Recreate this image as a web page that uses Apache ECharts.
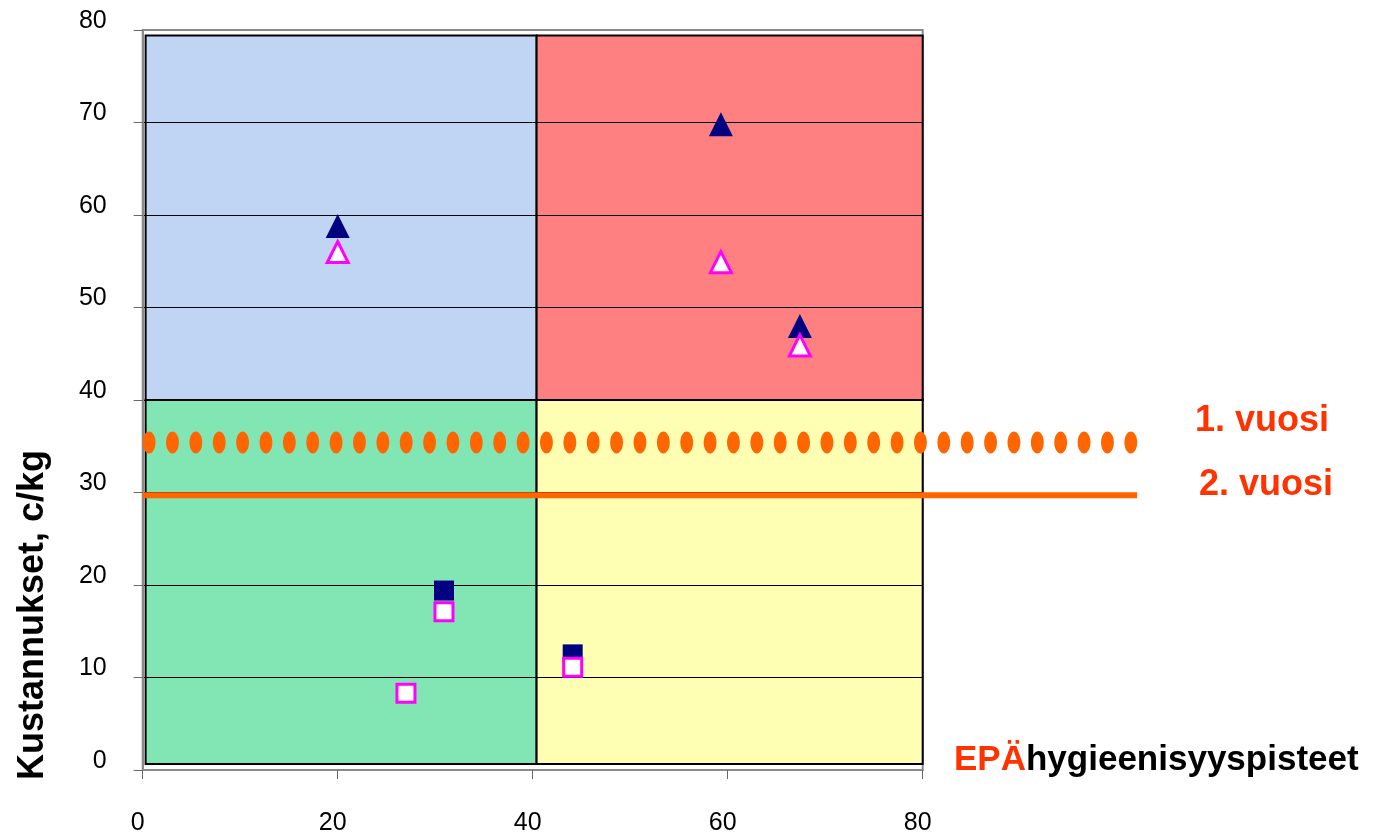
<!DOCTYPE html>
<html>
<head>
<meta charset="utf-8">
<script src="https://cdn.jsdelivr.net/npm/echarts@6/dist/echarts.min.js"></script>
<style>
html,body{margin:0;padding:0;background:#fff;}
#c{width:1393px;height:837px;}
</style>
</head>
<body>
<div id="c"></div>
<script>
// ---- data ----
const xTicks = [0, 20, 40, 60, 80];
const yTicks = [0, 10, 20, 30, 40, 50, 60, 70, 80];
const filledTriangles = [[20, 58.8], [59.3, 69.8], [67.4, 48.0]];
const openTriangles   = [[20, 56.0], [59.3, 54.9], [67.4, 45.9]];
const filledSquares   = [[30.9, 19.4], [44.1, 12.5]];
const openSquares     = [[30.9, 17.1], [27.0, 8.3], [44.1, 11.1]];
const quadX = [0.3, 40.4, 80];      // quadrant boundaries on x
const quadY = [0.65, 40, 79.4];     // quadrant boundaries on y
const line1 = [0, 35.4, 102];       // 1. vuosi: x start, y, x end
const line2 = [0, 29.7, 102];       // 2. vuosi: x start, y, x end
const lineLabels = ['1. vuosi', '2. vuosi'];
const yTitle = 'Kustannukset, c/kg';
const xTitleRed = 'EPÄ';
const xTitleBlack = 'hygieenisyyspisteet';

const FONT = "'Liberation Sans', Arial, sans-serif";
const RED = '#FF3300';
const ORANGE = '#FF6600';

const chart = echarts.init(document.getElementById('c'));

const gLeft = 142.7, gTop = 30, gW = 780, gH = 740;
const unitX = gW / 80;

const option = {
  animation: false,
  backgroundColor: '#ffffff',
  grid: [
    {left: gLeft, top: gTop, width: gW, height: gH, show: true, borderColor: '#8a8a8a', borderWidth: 2, backgroundColor: 'transparent'},
    {left: gLeft, top: gTop, width: unitX * 102, height: gH, show: false}
  ],
  xAxis: [
    {
      gridIndex: 0, type: 'value', min: 0, max: 80, interval: 20,
      axisLine: {show: true, onZero: false, lineStyle: {color: '#8a8a8a', width: 2}},
      axisTick: {show: true, length: 9, lineStyle: {color: '#666', width: 1}},
      axisLabel: {margin: 41, fontSize: 25, lineHeight: 25, color: '#000', fontFamily: FONT, padding: [0, 10, 0, 0],
        formatter: v => xTicks.includes(v) ? String(v) : ''},
      splitLine: {show: false}
    },
    {gridIndex: 1, type: 'value', min: 0, max: 102, show: false}
  ],
  yAxis: [
    {
      gridIndex: 0, type: 'value', min: 0, max: 80, interval: 10, z: 3,
      axisLine: {show: true, onZero: false, lineStyle: {color: '#8a8a8a', width: 2}},
      axisTick: {show: true, length: 9, lineStyle: {color: '#666', width: 1}},
      axisLabel: {margin: 36, fontSize: 25, lineHeight: 18, verticalAlign: 'bottom', color: '#000', fontFamily: FONT,
        formatter: v => yTicks.includes(v) ? String(v) : ''},
      splitLine: {show: true, showMinLine: false, showMaxLine: false, lineStyle: {color: '#000', width: 1}}
    },
    {gridIndex: 1, type: 'value', min: 0, max: 80, show: false}
  ],
  series: [
    {
      type: 'scatter', xAxisIndex: 0, yAxisIndex: 0, data: [], z: 1, silent: true,
      markArea: {
        silent: true,
        itemStyle: {borderColor: '#000', borderWidth: 2},
        data: [
          [{coord: [quadX[0], quadY[1]], itemStyle: {color: '#C0D4F4', borderColor: '#000', borderWidth: 2}}, {coord: [quadX[1], quadY[2]]}],
          [{coord: [quadX[1], quadY[1]], itemStyle: {color: '#FF8080', borderColor: '#000', borderWidth: 2}}, {coord: [quadX[2], quadY[2]]}],
          [{coord: [quadX[0], quadY[0]], itemStyle: {color: '#82E6B4', borderColor: '#000', borderWidth: 2}}, {coord: [quadX[1], quadY[1]]}],
          [{coord: [quadX[1], quadY[0]], itemStyle: {color: '#FFFFB4', borderColor: '#000', borderWidth: 2}}, {coord: [quadX[2], quadY[1]]}]
        ]
      }
    },
    {
      type: 'custom', xAxisIndex: 1, yAxisIndex: 1, z: 6, silent: true, clip: false,
      data: [line1],
      renderItem: function (params, api) {
        const p0 = api.coord([api.value(0), api.value(1)]);
        const p1 = api.coord([api.value(2), api.value(1)]);
        const rx = 6.4, ry = 11;
        const x0 = p0[0] + rx, x1 = p1[0] - rx;
        const n = Math.round((x1 - x0) / 23.5);
        const step = (x1 - x0) / n;
        const children = [];
        for (let i = 0; i <= n; i++) {
          children.push({type: 'ellipse', shape: {cx: x0 + i * step, cy: p0[1], rx: rx, ry: ry}, style: {fill: ORANGE}});
        }
        return {type: 'group', children: children};
      }
    },
    {
      type: 'line', xAxisIndex: 1, yAxisIndex: 1, z: 6, silent: true,
      data: [[line2[0], line2[1]], [line2[2], line2[1]]],
      symbol: 'none', lineStyle: {color: ORANGE, width: 6}
    },
    {
      type: 'scatter', xAxisIndex: 0, yAxisIndex: 0, z: 7, silent: true,
      data: filledTriangles, symbol: 'triangle', symbolSize: [24, 24],
      itemStyle: {color: '#000080', opacity: 1}
    },
    {
      type: 'scatter', xAxisIndex: 0, yAxisIndex: 0, z: 7, silent: true,
      data: filledSquares, symbol: 'rect', symbolSize: [20, 20],
      itemStyle: {color: '#000080', opacity: 1}
    },
    {
      type: 'scatter', xAxisIndex: 0, yAxisIndex: 0, z: 8, silent: true,
      data: openTriangles, symbol: 'triangle', symbolSize: [21, 21],
      itemStyle: {color: '#ffffff', borderColor: '#FF00FF', borderWidth: 3, opacity: 1}
    },
    {
      type: 'scatter', xAxisIndex: 0, yAxisIndex: 0, z: 8, silent: true,
      data: openSquares, symbol: 'rect', symbolSize: [18, 18],
      itemStyle: {color: '#ffffff', borderColor: '#FF00FF', borderWidth: 3, opacity: 1}
    }
  ],
  graphic: [
    {type: 'text', x: 1195, y: 421, z: 10,
      style: {text: lineLabels[0], font: 'bold 36px ' + FONT, fill: RED, textAlign: 'left', textVerticalAlign: 'middle', verticalAlign: 'middle'}},
    {type: 'text', x: 1199, y: 485, z: 10,
      style: {text: lineLabels[1], font: 'bold 36px ' + FONT, fill: RED, textAlign: 'left', textVerticalAlign: 'middle', verticalAlign: 'middle'}},
    {type: 'text', x: 954, y: 760, z: 10,
      style: {text: '{a|' + xTitleRed + '}{b|' + xTitleBlack + '}',
        rich: {
          a: {fontFamily: FONT, fontWeight: 'bold', fontSize: 35, fill: RED, color: RED},
          b: {fontFamily: FONT, fontWeight: 'bold', fontSize: 35, fill: '#000', color: '#000'}
        },
        font: 'bold 35px ' + FONT, textAlign: 'left', textVerticalAlign: 'middle', verticalAlign: 'middle'}},
    {type: 'text', x: 33, y: 615, rotation: Math.PI / 2, z: 10,
      style: {text: yTitle, font: 'bold 36px ' + FONT, fill: '#000', textAlign: 'center', textVerticalAlign: 'middle', verticalAlign: 'middle'}}
  ]
};
chart.setOption(option);
</script>
</body>
</html>
